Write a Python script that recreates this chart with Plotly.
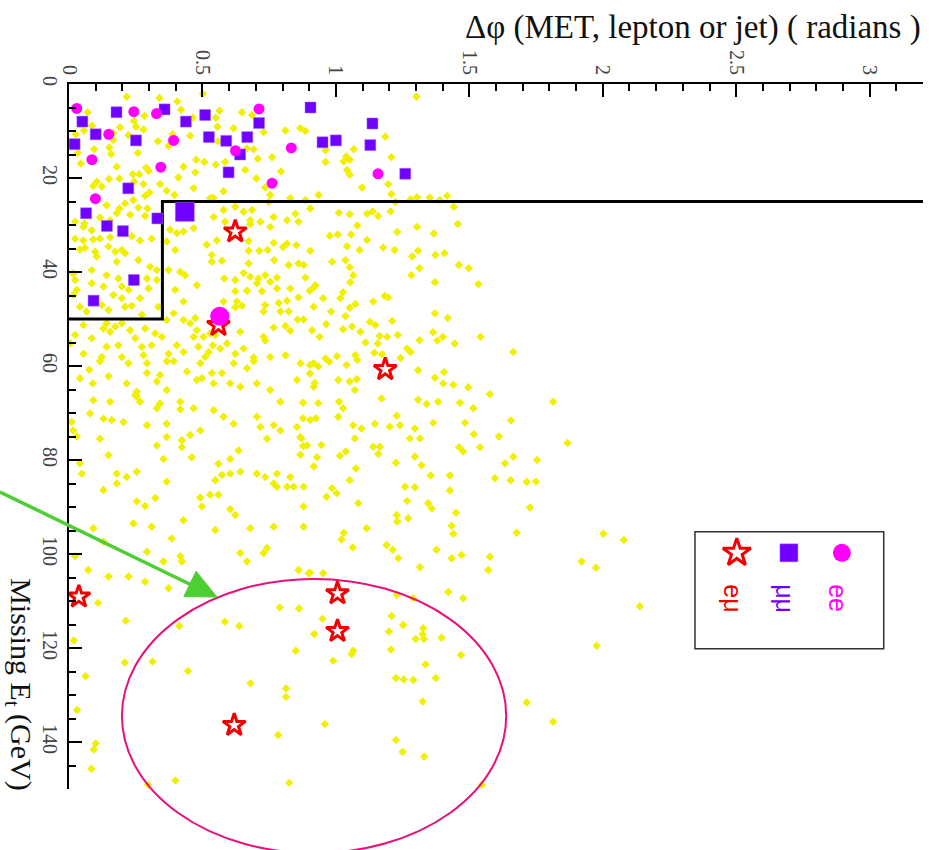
import plotly.graph_objects as go

# Simulated events: (delta-phi [rad], missing ET [GeV])
mc_events = [
    (0.216, 2.7), (0.339, 3.0), (0.406, 3.7), (0.502, 2.1), (0.420, 5.5), (0.070, 6.0), (0.283, 6.8),
    (0.244, 7.9), (0.464, 7.2), (0.550, 7.2), (0.556, 9.1), (0.086, 8.9), (0.191, 9.2), (0.251, 9.1),
    (0.279, 9.7), (0.056, 9.9), (0.166, 10.4), (0.223, 10.9), (0.388, 10.7), (0.454, 11.0), (0.558, 12.2),
    (0.025, 10.7), (0.166, 11.9), (0.151, 13.5), (0.373, 13.2), (0.333, 12.2), (0.094, 13.9), (0.258, 14.7),
    (0.033, 14.7), (0.158, 14.9), (0.477, 16.1), (0.507, 16.6), (0.044, 16.9), (0.179, 17.6), (0.289, 17.8),
    (0.298, 18.5), (0.429, 17.6), (0.473, 18.8), (0.550, 17.2), (0.150, 20.2), (0.189, 20.1), (0.239, 19.2),
    (0.263, 19.2), (0.244, 20.8), (0.279, 21.3), (0.341, 21.3), (0.410, 19.9), (0.104, 20.8), (0.091, 21.7),
    (0.123, 21.8), (0.467, 22.2), (0.366, 22.7), (0.395, 23.6), (0.301, 23.1), (0.285, 23.8), (0.241, 24.7),
    (0.210, 25.4), (0.141, 25.8), (0.189, 26.5), (0.260, 26.3), (0.294, 26.5), (0.179, 27.5), (0.229, 27.8),
    (0.285, 28.1), (0.116, 28.4), (0.154, 29.0), (0.529, 24.3), (0.542, 28.3), (0.104, 24.3), (0.023, 29.3),
    (0.058, 29.7),
    (0.564, 5.7), (0.648, 6.0), (0.686, 6.6), (0.617, 9.4), (0.729, 10.2), (0.811, 9.9), (0.867, 9.4),
    (0.886, 10.0), (0.667, 13.7), (0.692, 13.9), (0.761, 15.6), (0.961, 14.1), (1.067, 13.9), (0.585, 16.6),
    (0.660, 18.3), (0.707, 15.9), (0.794, 18.6), (0.961, 16.6), (1.039, 15.4), (1.052, 16.1), (1.029, 16.5),
    (1.042, 18.3), (1.052, 19.3), (0.702, 20.1), (0.735, 22.0), (0.579, 22.8), (0.754, 23.6), (0.935, 23.6),
    (1.098, 22.0), (0.541, 24.2), (0.748, 25.1), (0.829, 24.3), (0.886, 24.7), (0.579, 26.8), (0.623, 26.1),
    (0.654, 27.2), (0.686, 26.8), (0.767, 28.3), (0.848, 27.6), (0.904, 26.5), (1.011, 27.4), (1.052, 27.7),
    (0.679, 29.0), (0.717, 29.3), (0.817, 29.0), (0.860, 29.3), (1.117, 27.6), (0.585, 29.3),
    (1.302, 2.7), (1.185, 11.2), (1.208, 15.6), (1.196, 21.3), (1.208, 23.4), (1.280, 24.5), (1.304, 24.1),
    (1.352, 24.2), (1.390, 24.7), (1.417, 23.8), (1.223, 25.1), (1.442, 26.1), (1.138, 27.1), (1.158, 28.1),
    (1.205, 27.1), (1.457, 29.8), (1.304, 30.4), (1.367, 31.8), (1.230, 31.5), (0.977, 32.3), (1.007, 32.0),
    (1.057, 32.0), (1.117, 33.2), (0.904, 35.5), (1.089, 35.3), (1.177, 34.8), (1.220, 35.3), (1.308, 35.5),
    (1.373, 36.4), (1.407, 36.0), (1.286, 36.7), (1.042, 34.5), (0.986, 37.8), (1.036, 37.5), (1.052, 39.0),
    (0.879, 38.5), (0.886, 41.2), (1.065, 40.7), (1.054, 42.2), (1.283, 40.7), (1.313, 39.2), (1.461, 38.5),
    (1.498, 39.2), (1.534, 42.6), (1.371, 42.2), (0.919, 43.2), (0.902, 44.0), (1.027, 44.3), (1.017, 45.6),
    (0.952, 45.6), (1.183, 45.1), (1.196, 45.4), (1.140, 46.3), (0.917, 47.4), (0.982, 48.4), (1.052, 47.6),
    (1.073, 46.8), (0.879, 50.1), (0.964, 51.1), (1.036, 49.4), (1.061, 51.6), (1.027, 52.2), (0.911, 52.4),
    (0.939, 53.8), (1.092, 52.7), (1.127, 50.6), (1.148, 51.3), (1.211, 50.4), (1.371, 48.8), (1.419, 49.8),
    (1.164, 53.6), (1.192, 53.8), (1.232, 53.4), (1.364, 52.8), (1.380, 54.6), (1.401, 53.8), (1.313, 54.5),
    (1.445, 55.2), (1.542, 53.8), (1.665, 57.0), (1.111, 55.0), (1.157, 55.2), (1.267, 56.3), (1.280, 57.0),
    (1.144, 57.2), (1.173, 57.5), (1.004, 57.9), (0.961, 58.4), (1.242, 58.3),
    (0.554, 33.3), (0.673, 33.4), (0.679, 29.8), (0.754, 30.4), (1.080, 30.1), (0.767, 33.8), (0.817, 34.0),
    (0.852, 34.3), (0.673, 35.5), (0.713, 35.5), (0.744, 35.3), (0.802, 34.7), (0.535, 37.8), (0.573, 37.6),
    (0.673, 38.2), (0.769, 37.5), (0.823, 38.5), (0.860, 38.2), (0.654, 40.2), (0.679, 41.0), (0.710, 41.4),
    (0.735, 40.7), (0.779, 41.2), (0.582, 41.4), (0.623, 41.7), (0.704, 42.4), (0.754, 42.1), (0.829, 43.5),
    (0.923, 42.8), (0.667, 44.0), (0.723, 44.1), (0.779, 43.5), (0.623, 44.1), (0.860, 45.4), (0.817, 46.1),
    (0.629, 46.3), (0.579, 46.3), (0.623, 47.5), (0.648, 47.2), (0.735, 47.0), (0.786, 46.6), (0.792, 48.4),
    (0.823, 48.4), (0.729, 48.4), (0.857, 50.1), (0.767, 51.8), (0.811, 51.5), (0.829, 52.5), (0.642, 52.7),
    (0.729, 53.8), (0.735, 54.6), (0.592, 55.2), (0.623, 57.4), (0.654, 56.3), (0.754, 58.1), (0.811, 57.7),
    (0.692, 58.2), (0.539, 55.6), (0.567, 56.3), (0.529, 53.1), (1.073, 57.7),
    (0.054, 30.4), (0.085, 31.1), (0.023, 32.9), (0.054, 33.3), (0.091, 33.1), (0.116, 32.9), (0.154, 32.6),
    (0.235, 32.4), (0.266, 33.3), (0.310, 32.9), (0.041, 35.2), (0.060, 34.9), (0.098, 35.7), (0.148, 34.6),
    (0.173, 35.7), (0.198, 35.3), (0.210, 36.0), (0.104, 36.7), (0.179, 37.8), (0.260, 37.5), (0.304, 38.9),
    (0.329, 39.6), (0.016, 40.3), (0.085, 39.6), (0.141, 40.7), (0.185, 41.4), (0.292, 41.4), (0.329, 41.7),
    (0.023, 41.7), (0.085, 42.4), (0.129, 43.1), (0.198, 43.1), (0.223, 43.8), (0.298, 43.5), (0.029, 43.8),
    (0.016, 44.9), (0.166, 44.9), (0.198, 45.6), (0.266, 45.6), (0.041, 47.4), (0.123, 47.0), (0.148, 48.1),
    (0.210, 47.4), (0.235, 47.2), (0.273, 49.1), (0.335, 47.4), (0.066, 48.4),
    (0.054, 51.3), (0.023, 53.4), (0.141, 50.9), (0.173, 51.6), (0.198, 50.9), (0.129, 52.0), (0.154, 52.7),
    (0.229, 52.4), (0.285, 52.0), (0.248, 54.1), (0.085, 54.1), (0.141, 55.9), (0.185, 55.6), (0.273, 55.9),
    (0.310, 55.6), (0.348, 53.8), (0.323, 53.1), (0.054, 57.4), (0.123, 58.1), (0.198, 58.1), (0.279, 57.7),
    (0.366, 50.2), (0.392, 48.8),
    (0.398, 35.3), (0.373, 39.6), (0.417, 40.0), (0.435, 40.7), (0.398, 43.8), (0.429, 46.3), (0.479, 42.8),
    (0.516, 34.2), (0.535, 36.4), (0.379, 31.0), (0.404, 31.7), (0.429, 31.4), (0.467, 30.7), (0.366, 33.5),
    (0.429, 50.2), (0.454, 50.9), (0.473, 49.8), (0.479, 52.4), (0.467, 53.8), (0.504, 53.8), (0.548, 53.4),
    (0.404, 55.6), (0.429, 57.0), (0.485, 55.9), (0.523, 57.0), (0.373, 57.4), (0.510, 58.1), (0.004, 55.2),
    (0.076, 60.8), (0.041, 62.6), (0.089, 63.7), (0.116, 59.0), (0.223, 59.4), (0.292, 59.4), (0.366, 59.0),
    (0.148, 62.2), (0.216, 63.7), (0.254, 65.5), (0.266, 67.6), (0.254, 66.5), (0.292, 61.5), (0.341, 61.9),
    (0.392, 59.0), (0.442, 61.2), (0.492, 59.4), (0.535, 61.5), (0.573, 61.5), (0.617, 59.4), (0.692, 59.0),
    (0.867, 59.4), (0.917, 59.4), (0.329, 63.3), (0.366, 65.1), (0.479, 63.0), (0.542, 63.7), (0.498, 62.6),
    (0.604, 63.7), (0.642, 64.4), (0.667, 60.5), (0.704, 63.7), (0.754, 65.1), (0.792, 67.6), (0.854, 63.0),
    (0.917, 64.4), (0.091, 67.3), (0.154, 67.6), (0.248, 66.2), (0.341, 68.0), (0.417, 67.6), (0.467, 69.0),
    (0.542, 69.4), (0.579, 70.8), (0.366, 72.3), (0.329, 69.0), (0.417, 69.2), (0.079, 70.1), (0.129, 71.2),
    (0.160, 71.5), (0.204, 71.9), (0.292, 72.6), (0.492, 73.7), (0.454, 74.7), (0.423, 75.8), (0.617, 72.3),
    (0.704, 70.8), (0.717, 73.0), (0.767, 72.6), (0.792, 73.7), (0.854, 73.0), (0.904, 71.5), (0.867, 75.1),
    (0.892, 76.9), (0.742, 75.5), (0.010, 71.9), (0.016, 73.7), (0.029, 75.0), (0.116, 75.5), (0.148, 79.0),
    (0.329, 76.9), (0.366, 75.1), (0.423, 77.3), (0.460, 79.4), (0.354, 79.8), (0.604, 79.8), (0.635, 78.0),
    (0.560, 80.8), (0.573, 83.2), (0.604, 82.9), (0.642, 82.5), (0.704, 82.9), (0.735, 83.6), (0.779, 82.9),
    (0.829, 83.6), (0.767, 85.0), (0.779, 85.7), (0.817, 85.7), (0.842, 85.7), (0.879, 85.7), (0.879, 89.9),
    (0.917, 81.4), (0.929, 79.4), (0.867, 78.9), (0.041, 80.7), (0.048, 82.9), (0.179, 82.9), (0.216, 83.6),
    (0.254, 82.5), (0.179, 85.0), (0.366, 84.6), (0.129, 86.4), (0.492, 88.0), (0.529, 87.4), (0.560, 87.4),
    (0.548, 84.3), (0.604, 90.5), (0.623, 91.7), (0.498, 89.9), (0.254, 88.8), (0.285, 89.8), (0.323, 88.1),
    (0.241, 93.5), (0.310, 94.2), (0.429, 92.8), (0.548, 94.9), (0.679, 94.5), (0.767, 94.2), (0.879, 94.2),
    (0.091, 94.5), (0.129, 97.4), (0.385, 96.7), (0.023, 100.5), (0.292, 99.5), (0.354, 101.6), (0.417, 100.5),
    (0.423, 101.6), (0.642, 99.8), (0.667, 101.6), (0.742, 98.7), (0.729, 99.8), (0.072, 103.4), (0.148, 104.8),
    (0.223, 104.8), (0.285, 105.9), (0.373, 107.3), (0.860, 103.4), (0.898, 104.1),
    (0.109, 110.4), (0.213, 114.2), (0.413, 115.3), (0.584, 114.4), (0.638, 115.3), (0.790, 111.4),
    (0.862, 111.6), (0.919, 117.0), (0.850, 120.6), (0.018, 118.4), (0.209, 123.1), (0.313, 122.9),
    (0.446, 124.9), (0.062, 126.0), (0.680, 127.5), (0.813, 128.6), (0.813, 130.4), (0.030, 133.2),
    (0.784, 138.5), (0.100, 140.3), (0.093, 141.6), (0.084, 145.7), (0.296, 149.1), (0.399, 148.2),
    (0.825, 148.7),
    (0.975, 59.1), (1.080, 58.7), (0.903, 59.8), (0.934, 60.1), (1.040, 59.8), (0.903, 61.6), (1.308, 60.9),
    (1.405, 61.3), (1.009, 63.0), (1.052, 63.3), (1.078, 62.8), (1.371, 62.5), (1.402, 63.7), (1.440, 64.0),
    (1.496, 64.5), (1.577, 66.0), (0.921, 63.6), (1.071, 65.1), (1.171, 66.9), (1.308, 67.2), (1.340, 68.1),
    (1.383, 67.6), (1.465, 67.8), (1.515, 69.0), (1.814, 67.6), (0.877, 67.8), (0.934, 67.9), (1.012, 67.6),
    (1.027, 69.0), (0.877, 71.1), (0.925, 71.1), (1.009, 70.8), (1.065, 72.6), (1.096, 73.3), (1.146, 72.3),
    (1.202, 72.9), (1.240, 72.6), (1.296, 73.3), (1.228, 70.6), (1.365, 72.1), (1.484, 72.1), (1.656, 71.6),
    (1.517, 74.5), (1.611, 75.0), (1.868, 76.4), (0.871, 75.4), (0.877, 77.0), (0.946, 76.8), (1.071, 75.4),
    (1.140, 77.2), (1.165, 77.2), (1.277, 75.4), (1.315, 75.4), (1.462, 77.3), (1.477, 78.2), (1.540, 77.3),
    (1.665, 79.3), (1.634, 80.7), (1.754, 80.0), (1.015, 79.1), (1.037, 78.2), (1.159, 78.7), (1.225, 80.6),
    (1.296, 79.3), (1.321, 81.1), (1.355, 83.3), (1.427, 83.3), (1.596, 83.9), (1.655, 84.3), (1.715, 84.7),
    (1.750, 84.6), (0.986, 86.0), (1.003, 87.1), (0.965, 87.8), (1.052, 84.3), (1.075, 81.8), (1.084, 89.2),
    (1.259, 85.7), (1.296, 85.8), (1.346, 89.2), (1.359, 90.3), (1.427, 86.5), (1.267, 88.7), (1.228, 91.7),
    (1.230, 93.1), (1.271, 92.4), (1.450, 91.2), (1.434, 94.0), (1.440, 95.7), (1.727, 90.1), (1.677, 95.5),
    (2.002, 95.7), (2.079, 97.0), (1.030, 95.5), (1.021, 96.9), (1.063, 98.6), (1.115, 94.5), (1.190, 98.1),
    (1.213, 99.1), (1.234, 100.9), (1.315, 102.8), (1.377, 99.1), (1.434, 100.9), (1.471, 100.2),
    (1.577, 100.6), (1.571, 103.4), (1.921, 101.6), (1.975, 102.9), (2.139, 111.1), (0.903, 104.0),
    (0.952, 104.1), (1.421, 108.1), (1.477, 109.4), (1.228, 108.7), (1.290, 109.4), (1.209, 113.2),
    (1.252, 115.1), (1.327, 115.8),
    (0.950, 113.8), (0.990, 122.7), (1.059, 121.3), (1.065, 120.6), (1.199, 116.5), (1.325, 117.1),
    (1.299, 118.1), (1.330, 118.1), (1.396, 117.8), (1.206, 120.3), (1.469, 121.5), (1.336, 123.5),
    (1.225, 126.4), (1.254, 126.7), (1.290, 126.8), (1.374, 126.4), (1.325, 131.4), (0.959, 136.2),
    (1.225, 139.6), (1.250, 142.1), (1.331, 143.1), (1.548, 149.1), (1.715, 131.6), (1.814, 135.7),
    (1.977, 119.5),
]
mc_dphi = [p[0] for p in mc_events]
mc_met = [p[1] for p in mc_events]

# Data candidates, one pair of lists per dilepton channel
emu_dphi = [0.623, 0.560, 1.185, 0.037, 1.006, 1.006, 0.619]
emu_met = [31.4, 51.3, 60.7, 109.1, 108.4, 116.4, 136.4]

mumu_dphi = [0.021, 0.050, 0.100, 0.178, 0.251, 0.358, 0.438, 0.510, 0.524, 0.589, 0.668, 0.641,
             0.598, 0.712, 0.905, 0.950, 1.000, 1.137, 1.129, 1.260, 0.222, 0.064, 0.142, 0.202,
             0.331, 0.243, 0.092]
mumu_met = [12.8, 8.0, 10.7, 6.0, 12.0, 5.4, 8.0, 6.6, 11.3, 12.1, 11.3, 15.0,
            18.8, 8.3, 5.0, 12.4, 12.0, 8.4, 13.0, 19.1, 22.2, 27.5, 30.2, 31.3,
            28.6, 41.7, 46.1]

ee_dphi = [0.029, 0.243, 0.328, 0.149, 0.392, 0.086, 0.344, 0.099, 0.712, 0.624, 0.833, 0.761, 1.158]
ee_met = [5.2, 5.9, 6.3, 10.7, 12.0, 16.1, 17.7, 24.4, 5.3, 14.2, 13.6, 21.1, 19.1]

# Two coincident candidates, drawn with enlarged markers
mumu_double_dphi = [0.434]
mumu_double_met = [27.2]
ee_double_dphi = [0.565]
ee_double_met = [49.4]

# Selection boundary: MET > 25 GeV, and MET > 50 GeV for delta-phi < 0.35
dphi_cut = 0.35
met_cut_low = 25
met_cut_high = 50

DPHI_MAX = 3.2
MET_MAX = 150

YELLOW = "#f0f000"
RED = "#f00000"
PURPLE = "#7000ff"
MAGENTA = "#ff00ff"
GREEN = "#4dcf33"
SERIF = "Liberation Serif, Times New Roman, serif"
SANS = "Liberation Sans, Arial, sans-serif"

fig = go.Figure()

fig.add_trace(go.Scatter(
    x=mc_dphi, y=mc_met, mode="markers",
    marker=dict(symbol="diamond", size=6.5, color=YELLOW, line=dict(width=0)),
    showlegend=False, hoverinfo="skip",
))

fig.add_trace(go.Scatter(
    x=[0, dphi_cut, dphi_cut, DPHI_MAX],
    y=[met_cut_high, met_cut_high, met_cut_low, met_cut_low],
    mode="lines", line=dict(color="black", width=3),
    showlegend=False, hoverinfo="skip",
))

star_marker = dict(symbol="star-open", size=17, color=RED, line=dict(width=3, color=RED))
square_marker = dict(symbol="square", size=11, color=PURPLE, line=dict(width=0.5, color="#a070ff"))
circle_marker = dict(symbol="circle", size=11, color=MAGENTA, line=dict(width=0))

fig.add_trace(go.Scatter(x=emu_dphi, y=emu_met, mode="markers", marker=star_marker,
                         name="eμ", showlegend=False))
fig.add_trace(go.Scatter(x=mumu_dphi, y=mumu_met, mode="markers", marker=square_marker,
                         name="μμ", showlegend=False))
fig.add_trace(go.Scatter(x=ee_dphi, y=ee_met, mode="markers", marker=circle_marker,
                         name="ee", showlegend=False))
fig.add_trace(go.Scatter(x=mumu_double_dphi, y=mumu_double_met, mode="markers",
                         marker=dict(square_marker, size=19), showlegend=False))
fig.add_trace(go.Scatter(x=ee_double_dphi, y=ee_double_met, mode="markers",
                         marker=dict(circle_marker, size=19), showlegend=False))

# Hand-drawn legend box in paper coordinates (symbols above, rotated labels below)
legend_box = dict(x0=0.733, x1=0.954, y0=0.199, y1=0.365)
legend_keys = [
    (0.782, RED, dict(star_marker, size=21), "eμ"),
    (0.843, PURPLE, dict(square_marker, size=18), "μμ"),
    (0.905, MAGENTA, dict(circle_marker, size=18), "ee"),
]
legend_symbol_y = 0.335
legend_label_y = 0.270

for kx, kcolor, kmarker, klabel in legend_keys:
    fig.add_trace(go.Scatter(x=[kx], y=[legend_symbol_y], xaxis="x2", yaxis="y2",
                             mode="markers", marker=kmarker, showlegend=False,
                             hoverinfo="skip", cliponaxis=False))
    fig.add_annotation(x=kx - 0.004, y=legend_label_y, xref="paper", yref="paper", text=klabel,
                       textangle=90, showarrow=False, xanchor="center", yanchor="middle",
                       font=dict(family=SANS, size=25, color=kcolor))

fig.add_shape(type="rect", xref="paper", yref="paper", **legend_box,
              line=dict(color="#333333", width=1.5), fillcolor="rgba(0,0,0,0)")

# Highlight of the high-MET region and the pointer to it
fig.add_shape(type="circle", xref="paper", yref="paper",
              x0=0.062, x1=0.512, y0=-0.091, y1=0.298,
              line=dict(color="#e8107a", width=2))
fig.add_shape(type="line", xref="paper", yref="paper",
              x0=-0.0808, y0=0.4213, x1=0.1440, y1=0.2890,
              line=dict(color=GREEN, width=3.5))
fig.add_shape(type="path", xref="paper", yref="paper",
              path="M 0.1733 0.2723 L 0.1345 0.2730 L 0.1488 0.3088 Z",
              fillcolor=GREEN, line=dict(color=GREEN, width=1))

# Axis titles
fig.add_annotation(x=1.0, y=1.0, xref="paper", yref="paper", yshift=57,
                   xanchor="right", yanchor="middle", showarrow=False,
                   text="Δφ (MET, lepton or jet) ( radians )",
                   font=dict(family=SERIF, size=33, color="#111111"))
fig.add_annotation(x=-0.058, y=0.148, xref="paper", yref="paper", textangle=90,
                   xanchor="center", yanchor="middle",
                   showarrow=False, text="Missing E<sub>t</sub> (GeV)",
                   font=dict(family=SERIF, size=30, color="#111111"))

fig.update_layout(
    template="none",
    width=929, height=850,
    margin=dict(l=69, r=6, t=84, b=61, pad=0),
    paper_bgcolor="white", plot_bgcolor="white",
    showlegend=False,
    xaxis=dict(
        side="top", range=[0, DPHI_MAX], tickvals=[0, 0.5, 1, 1.5, 2, 2.5, 3],
        ticktext=["0", "0.5", "1", "1.5", "2", "2.5", "3"],
        ticks="inside", ticklen=13, tickwidth=1.5, tickcolor="black",
        minor=dict(dtick=0.1, ticks="inside", ticklen=7, tickwidth=1.5, tickcolor="black"),
        showline=True, linecolor="black", linewidth=2, mirror=False,
        showgrid=False, zeroline=False, automargin=False,
        tickangle=90, tickfont=dict(family=SERIF, size=20, color="#444444"),
    ),
    yaxis=dict(
        range=[MET_MAX, 0], tickvals=[0, 20, 40, 60, 80, 100, 120, 140],
        ticks="inside", ticklen=13, tickwidth=1.5, tickcolor="black",
        minor=dict(dtick=5, ticks="inside", ticklen=7, tickwidth=1.5, tickcolor="black"),
        showline=True, linecolor="black", linewidth=2, mirror=False,
        showgrid=False, zeroline=False, automargin=False,
        tickangle=90, tickfont=dict(family=SERIF, size=20, color="#444444"),
    ),
    xaxis2=dict(overlaying="x", range=[0, 1], visible=False),
    yaxis2=dict(overlaying="y", range=[0, 1], visible=False),
)

fig.write_html("out.html")
